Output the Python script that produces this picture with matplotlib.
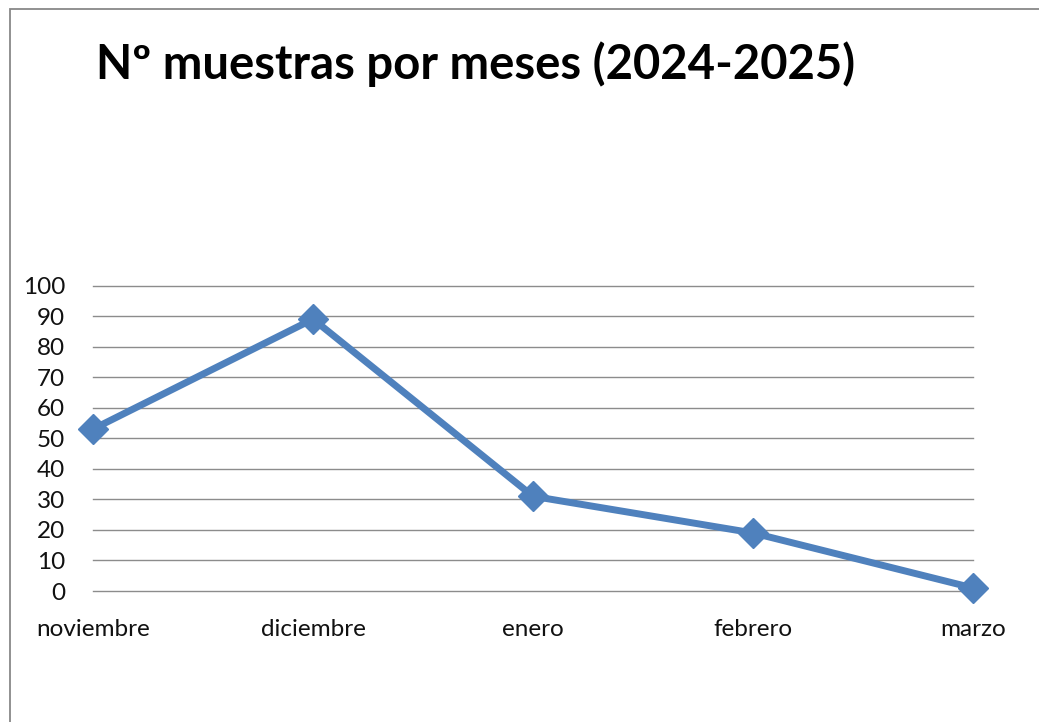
import matplotlib
matplotlib.use("Agg")
import matplotlib.pyplot as plt
from matplotlib.patches import Rectangle

months = ["noviembre", "diciembre", "enero", "febrero", "marzo"]
samples = [53, 89, 31, 19, 1]
y_ticks = list(range(0, 101, 10))

TITLE = "Nº muestras por meses (2024-2025)"
BLUE = "#4F81BD"
GRID = "#8C8C8C"

plt.rcParams["font.family"] = ["Lato", "DejaVu Sans"]

fig = plt.figure(figsize=(10.39, 7.22), dpi=100)
ax = fig.add_axes([93 / 1039, 1 - 591 / 722, 880 / 1039, 305.5 / 722])

x = list(range(len(months)))
ax.plot(x, samples, color=BLUE, linewidth=5, marker="D", markersize=15,
        solid_joinstyle="miter", zorder=3, clip_on=False)

ax.set_xlim(0, len(months) - 1)
ax.set_ylim(0, 100)
ax.set_yticks(y_ticks)
ax.set_xticks(x, months)
ax.grid(axis="y", color=GRID, linewidth=1)
for line in ax.get_ygridlines():
    line.set_clip_on(False)
ax.set_axisbelow(True)
for side in ("top", "right", "left", "bottom"):
    ax.spines[side].set_visible(False)
ax.tick_params(axis="both", length=0, labelsize=17.5, colors="#111111")
ax.tick_params(axis="y", pad=20)
ax.tick_params(axis="x", pad=20)

fig.text(476 / 1039, 1 - 64 / 722, TITLE, ha="center", va="center",
         fontsize=34, fontweight="bold", color="black")

# outer chart border (only left and top edges are visible in the crop)
fig.patches.append(Rectangle((10 / 1039, -0.1), 1.2, 1 - 8.5 / 722 + 0.1,
                             transform=fig.transFigure, fill=False,
                             edgecolor="#888888", linewidth=1.3))

fig.savefig("out.png", dpi=100)
